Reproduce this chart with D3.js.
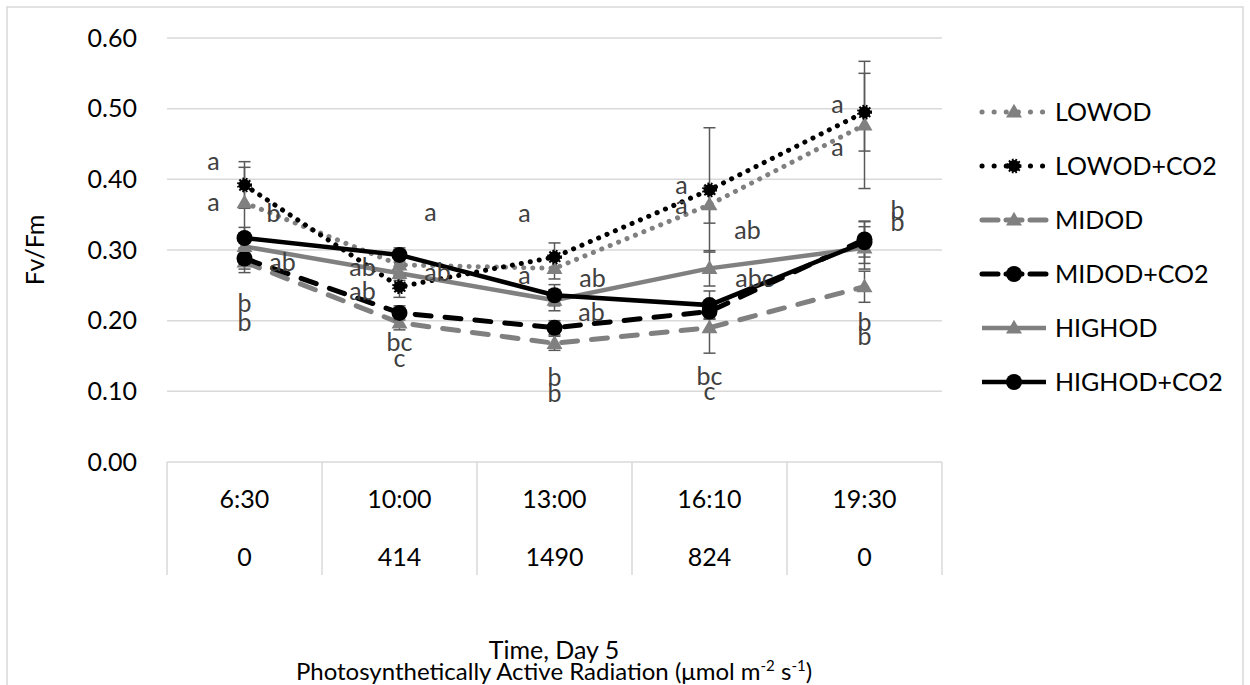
<!DOCTYPE html>
<html>
  <head>
    <meta charset="utf-8">
    <title>Fv/Fm Day 5</title>
    <style>
      body { margin: 0; background: #fff; }
      svg text { font-family: Lato, "Open Sans", sans-serif; }
    </style>
  </head>
  <body>
    <div id="chart"></div>
  <script src="https://cdnjs.cloudflare.com/ajax/libs/d3/7.8.5/d3.min.js"></script>
  <script type="text/javascript">
  // data
  var times = ['6:30', '10:00', '13:00', '16:10', '19:30'];
  var par = ['0', '414', '1490', '824', '0'];
  var yTicks = [0, 0.1, 0.2, 0.3, 0.4, 0.5, 0.6];
  var names = ['LOWOD', 'LOWOD+CO2', 'MIDOD', 'MIDOD+CO2', 'HIGHOD', 'HIGHOD+CO2'];

  var lowod      = [0.367, 0.279, 0.274, 0.364, 0.477];
  var lowodCO2   = [0.392, 0.248, 0.290, 0.385, 0.495];
  var midod      = [0.283, 0.197, 0.168, 0.190, 0.248];
  var midodCO2   = [0.288, 0.211, 0.190, 0.213, 0.315];
  var highod     = [0.305, 0.267, 0.229, 0.274, 0.303];
  var highodCO2  = [0.317, 0.293, 0.236, 0.222, 0.311];

  var lowodErr     = [0.050, 0.015, 0.015, 0.026, 0.090];
  var lowodCO2Err  = [0.033, 0.015, 0.020, 0.088, 0.055];
  var midodErr     = [0.015, 0.010, 0.010, 0.036, 0.022];
  var midodCO2Err  = [0.015, 0.010, 0.010, 0.010, 0.025];
  var highodErr    = [0.010, 0.010, 0.015, 0.025, 0.030];
  var highodCO2Err = [0.015, 0.010, 0.015, 0.020, 0.030];

  // significance letters
  var lowodLbl     = ['a', 'ab', 'a', 'a', 'a'];
  var lowodCO2Lbl  = ['a', 'a', 'a', 'a', 'a'];
  var midodLbl     = ['b', 'c', 'b', 'c', 'b'];
  var midodCO2Lbl  = ['b', 'bc', 'b', 'bc', 'b'];
  var highodLbl    = ['ab', 'ab', 'ab', 'ab', 'b'];
  var highodCO2Lbl = ['b', 'ab', 'ab', 'abc', 'b'];

  // label offsets from the point, in pixels (layout only)
  var lblOffsets = [
    [[-31, 0], [-37, 2], [-30, 7], [-28, 0], [-27, 22]],
    [[-31, -24], [31, -74], [-30, -44], [-28, -5], [-27, -8]],
    [[0, 60], [0, 35], [0, 50], [0, 64], [0, 50]],
    [[0, 45], [0, 29], [0, 50], [0, 65], [0, 83]],
    [[38, 16], [-37, 18], [37, 12], [38, -38], [33, -38]],
    [[29, -25], [38, 17], [38, -17], [45, -27], [33, -20]]
  ];

  var gray = '#808080';
  var styles = [
    {color: gray, dash: '0.1 9', width: 5, marker: 'tri'},
    {color: '#000', dash: '0.1 9', width: 5, marker: 'spiky'},
    {color: gray, dash: '16 14', width: 5, marker: 'tri'},
    {color: '#000', dash: '16 14', width: 5, marker: 'dot'},
    {color: gray, dash: null, width: 4.5, marker: 'tri'},
    {color: '#000', dash: null, width: 4.5, marker: 'dot'}
  ];

  var values = [lowod, lowodCO2, midod, midodCO2, highod, highodCO2];
  var errs = [lowodErr, lowodCO2Err, midodErr, midodCO2Err, highodErr, highodCO2Err];
  var lbls = [lowodLbl, lowodCO2Lbl, midodLbl, midodCO2Lbl, highodLbl, highodCO2Lbl];

  var series = names.map(function(n, i) {
    return {name: n, style: styles[i], points: times.map(function(t, j) {
      return {t: t, v: values[i][j], e: errs[i][j], lbl: lbls[i][j], off: lblOffsets[i][j]};
    })};
  });

  var W = 1250, H = 685;
  var svg = d3.select('#chart').append('svg').attr('width', W).attr('height', H);

  svg.append('rect').attr('x', 7).attr('y', 7).attr('width', 1236).attr('height', 700)
     .style('fill', 'none').style('stroke', '#d9d9d9').style('stroke-width', 1.5);

  var x = d3.scaleBand().domain(times).range([167, 942]);
  var y = d3.scaleLinear().domain([0, 0.6]).range([462, 38]);
  var cx = function(t) { return x(t) + x.bandwidth() / 2; };

  // gridlines
  svg.append('g').selectAll('line').data(yTicks.filter(function(d) { return d > 0; }))
    .enter().append('line')
    .attr('x1', 167).attr('x2', 942)
    .attr('y1', function(d) { return y(d); }).attr('y2', function(d) { return y(d); })
    .style('stroke', '#d9d9d9').style('stroke-width', 1.5);

  // y axis
  var yAxis = svg.append('g').attr('transform', 'translate(167,0)')
    .call(d3.axisLeft(y).tickValues(yTicks).tickFormat(d3.format('.2f')).tickSize(0).tickPadding(30));
  yAxis.select('.domain').remove();
  yAxis.selectAll('text').style('font-size', '25px').style('fill', '#000')
    .style('font-family', 'Lato, sans-serif');

  // category axis box
  var cat = svg.append('g');
  cat.append('line').attr('x1', 167).attr('x2', 942).attr('y1', 462).attr('y2', 462)
     .style('stroke', '#d9d9d9').style('stroke-width', 1.5);
  var edges = times.map(function(t) { return x(t); }).concat([x.range()[1]]);
  cat.selectAll('.div').data(edges).enter().append('line')
     .attr('x1', function(d) { return d; }).attr('x2', function(d) { return d; })
     .attr('y1', 462).attr('y2', 575)
     .style('stroke', '#d9d9d9').style('stroke-width', 1.5);
  cat.selectAll('.time').data(times).enter().append('text')
     .attr('x', cx).attr('y', 508).attr('text-anchor', 'middle')
     .style('font-size', '25px').text(function(d) { return d; });
  cat.selectAll('.par').data(par).enter().append('text')
     .attr('x', function(d, i) { return cx(times[i]); }).attr('y', 566).attr('text-anchor', 'middle')
     .style('font-size', '25px').text(function(d) { return d; });

  // titles
  svg.append('text').attr('transform', 'translate(44,250) rotate(-90)').attr('text-anchor', 'middle')
     .style('font-size', '25px').text('Fv/Fm');
  svg.append('text').attr('x', 554).attr('y', 659).attr('text-anchor', 'middle')
     .style('font-size', '25px').text('Time, Day 5');
  var t2 = svg.append('text').attr('x', 554).attr('y', 680).attr('text-anchor', 'middle')
     .style('font-size', '24px');
  t2.append('tspan').text('Photosynthetically Active Radiation (\u03bcmol m');
  t2.append('tspan').attr('dy', -9).style('font-size', '15px').text('-2');
  t2.append('tspan').attr('dy', 9).text(' s');
  t2.append('tspan').attr('dy', -9).style('font-size', '15px').text('-1');
  t2.append('tspan').attr('dy', 9).text(')');

  var line = d3.line().x(function(d) { return cx(d.t); }).y(function(d) { return y(d.v); });

  function drawMarker(g, kind, px, py) {
    if (kind === 'tri') {
      g.append('path').attr('d', d3.symbol().type(d3.symbolTriangle).size(110)())
       .attr('transform', 'translate(' + px + ',' + (py + 1) + ')').style('fill', gray);
    } else if (kind === 'spiky') {
      g.append('circle').attr('cx', px).attr('cy', py).attr('r', 6).style('fill', '#000')
       .style('stroke', '#000').style('stroke-width', 3).style('stroke-dasharray', '1.6 1.6');
    } else {
      g.append('circle').attr('cx', px).attr('cy', py).attr('r', 8).style('fill', '#000');
    }
  }

  // lines
  var plot = svg.append('g');
  series.forEach(function(s) {
    plot.append('path').datum(s.points).attr('d', line)
      .style('fill', 'none').style('stroke', s.style.color).style('stroke-width', s.style.width)
      .style('stroke-linecap', s.style.dash ? 'round' : 'butt')
      .style('stroke-dasharray', s.style.dash);
  });

  // error bars
  var eb = svg.append('g');
  series.forEach(function(s) {
    s.points.forEach(function(p) {
      var x0 = cx(p.t);
      eb.append('line').attr('x1', x0).attr('x2', x0).attr('y1', y(p.v - p.e)).attr('y2', y(p.v + p.e))
        .style('stroke', '#595959').style('stroke-width', 1.5);
      [p.v - p.e, p.v + p.e].forEach(function(v) {
        eb.append('line').attr('x1', x0 - 6).attr('x2', x0 + 6).attr('y1', y(v)).attr('y2', y(v))
          .style('stroke', '#595959').style('stroke-width', 1.5);
      });
    });
  });

  // markers
  var mk = svg.append('g');
  series.forEach(function(s) {
    s.points.forEach(function(p) { drawMarker(mk, s.style.marker, cx(p.t), y(p.v)); });
  });

  // letters
  var lb = svg.append('g');
  series.forEach(function(s) {
    s.points.forEach(function(p) {
      lb.append('text').attr('x', cx(p.t) + p.off[0]).attr('y', y(p.v) + p.off[1])
        .attr('text-anchor', 'middle').attr('dy', '0.35em')
        .style('font-size', '25px').style('fill', '#404040').text(p.lbl);
    });
  });

  // legend
  var leg = svg.append('g');
  series.forEach(function(s, i) {
    var ly = 112 + i * 54;
    var g = leg.append('g');
    g.append('line').attr('x1', 982).attr('x2', 1046).attr('y1', ly).attr('y2', ly)
      .style('stroke', s.style.color).style('stroke-width', s.style.width)
      .style('stroke-linecap', s.style.dash ? 'round' : 'butt')
      .style('stroke-dasharray', s.style.dash === '16 14' ? '16 8' : (s.style.dash ? '0.1 12' : null));
    drawMarker(g, s.style.marker, 1014, ly);
    g.append('text').attr('x', 1055).attr('y', ly).attr('dy', '0.35em')
      .style('font-size', '25px').text(s.name);
  });
  </script>
  </body>
</html>
